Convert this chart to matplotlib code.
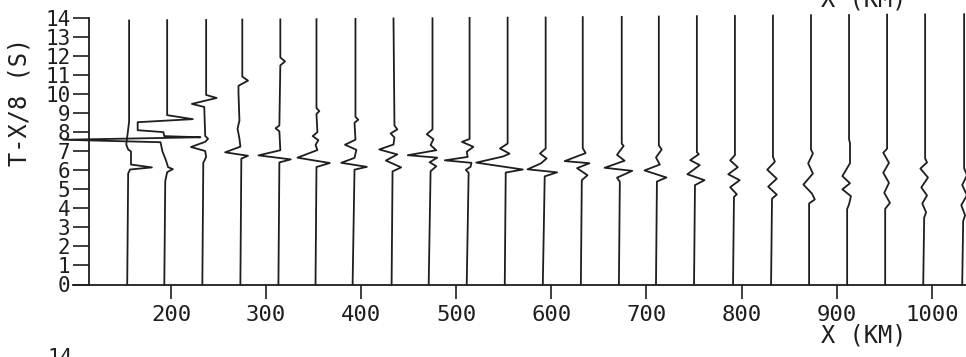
import matplotlib
matplotlib.use("Agg")
import matplotlib.pyplot as plt

offsets_km = [155, 195, 235, 274, 314, 352, 392, 433, 473, 513, 553, 593,
              632, 673, 712, 752, 792, 832, 872, 912, 952, 992, 1033]

# reduced time T-X/8 (s) of each turning point, top to bottom
trace_times = [
    [13.84, 8.55, 8.13, 7.34, 7.08, 6.97, 6.29, 6.14, 6.03, 5.82, 0],
    [13.86, 8.88, 8.67, 8.51, 8.09, 7.99, 7.78, 7.72, 7.59, 7.46, 6.99, 6.47, 6.15, 6.05, 5.89, 5.42, 0],
    [13.87, 9.94, 9.78, 9.47, 9.31, 7.79, 7.64, 7.48, 7.21, 7.00, 6.69, 6.38, 0],
    [13.89, 10.90, 10.69, 10.42, 10.06, 8.59, 8.17, 7.65, 7.23, 6.93, 6.75, 6.60, 0],
    [13.90, 11.90, 11.70, 11.49, 8.34, 8.19, 8.03, 7.04, 6.77, 6.56, 6.40, 0],
    [13.91, 9.25, 9.09, 8.94, 7.99, 7.78, 7.57, 7.31, 7.05, 6.65, 6.37, 6.16, 0],
    [13.93, 8.79, 8.64, 8.48, 7.59, 7.33, 7.06, 6.64, 6.38, 6.17, 6.02, 0],
    [13.95, 8.34, 8.13, 7.92, 7.71, 7.34, 7.08, 6.82, 6.50, 6.14, 5.93, 0],
    [13.96, 8.14, 7.88, 7.62, 7.31, 7.04, 6.78, 6.65, 6.41, 6.20, 5.94, 0],
    [13.98, 7.63, 7.48, 7.22, 6.96, 6.69, 6.51, 6.38, 6.17, 6.01, 5.86, 0],
    [13.99, 7.39, 7.13, 6.86, 6.71, 6.39, 6.03, 5.87, 0],
    [14.00, 7.13, 6.87, 6.61, 6.35, 6.04, 5.88, 5.67, 0],
    [14.02, 7.15, 6.89, 6.47, 6.36, 6.10, 5.73, 5.47, 0],
    [14.03, 7.38, 7.27, 6.80, 6.49, 6.12, 5.96, 5.60, 5.39, 0],
    [14.05, 7.29, 7.08, 6.66, 6.29, 5.98, 5.61, 5.40, 0],
    [14.07, 6.94, 6.83, 6.52, 6.26, 5.78, 5.47, 5.21, 0],
    [14.08, 6.78, 6.51, 6.15, 5.78, 5.47, 5.10, 4.73, 4.59, 0],
    [14.10, 6.70, 6.44, 6.02, 5.55, 5.13, 4.71, 4.50, 0],
    [14.12, 7.08, 6.87, 6.35, 5.82, 5.24, 4.77, 4.46, 4.25, 0],
    [14.13, 7.62, 7.41, 6.36, 5.68, 5.31, 4.99, 4.63, 4.21, 3.95, 0],
    [14.15, 7.12, 6.91, 6.38, 5.86, 5.33, 4.81, 4.28, 3.97, 0],
    [14.16, 6.61, 6.40, 6.08, 5.61, 5.09, 4.67, 4.25, 3.78, 3.51, 0],
    [14.17, 6.10, 5.73, 5.21, 4.68, 4.16, 3.63, 3.32, 0],
]

# deflection of the trace (km) at those times
trace_amps = [
    [1, 1, 0, -2, 0, 3, 3, 25, 2, 0, -1],
    [1, 1, 28, -30, -30, -3, -2, 36, -108, -6, -4, 0, 2, 7, 1, -1, -2],
    [2, 2, 13, -13, 0, 1, 4, 1, -14, 1, 2, -1, -2],
    [1, 1, 7, -3, -3, -2, -4, -2, -1, -17, 7, 0, -1],
    [1, 1, 6, 1, 0, -4, 0, 1, -22, 12, 0, -1],
    [1, 1, 4, 1, 2, -3, 3, 0, 2, -19, 15, 1, 0],
    [2, 2, 5, 1, 2, -9, 3, 1, -13, 14, 1, -1],
    [1, 2, 5, -2, 2, 1, -14, 5, -7, 9, 0, -1],
    [2, 2, -4, 3, 0, 6, -24, 7, -1, 6, 0, -2],
    [1, 1, -7, 5, -2, -1, -25, 3, 2, -3, 0, -2],
    [1, 1, -7, 3, -4, -32, 17, -1, -2],
    [1, 1, -5, 2, -4, -18, 13, 0, -2],
    [1, 1, 4, -18, 8, -5, 6, 0, -1],
    [1, 1, 3, -4, 4, -17, 12, -4, -1, -2],
    [1, 1, 4, -2, 2, -14, 9, -1, -2],
    [1, 1, 3, -6, 4, -9, 9, -1, -2],
    [1, 1, -4, 4, -6, 6, -4, 3, 0, -1],
    [1, 1, 3, -5, 5, -4, 5, 0, -1],
    [1, 1, 3, -2, 3, -7, 2, 5, -1, -1],
    [1, 1, 2, 2, -6, 2, -6, 3, 1, -1, -1],
    [1, 1, -3, 3, -3, 3, -2, 4, -1, -1],
    [1, 1, 3, -4, 4, -3, 3, -2, 2, 0, -1],
    [1, 1, 4, -1, 4, -2, 2, 0, -1],
]

x_ticks = [200, 300, 400, 500, 600, 700, 800, 900, 1000]
y_ticks = list(range(0, 15))

ink = "#1e1e1e"
mono = "DejaVu Sans Mono"

fig = plt.figure(figsize=(9.66, 3.57), dpi=100)
ax = fig.add_axes([73 / 966, (357 - 284.5) / 357, 907 / 966, 267 / 357])

for x0, tt, aa in zip(offsets_km, trace_times, trace_amps):
    ax.plot([x0 + a for a in aa], tt, color=ink, lw=1.3, clip_on=False,
            solid_joinstyle="round")

ax.set_xlim(97, 1050.7)
ax.set_ylim(0, 14)

for s in ("top", "right"):
    ax.spines[s].set_visible(False)
ax.spines["left"].set_position(("data", 114))
ax.spines["left"].set_bounds(0, 14)
for s in ("left", "bottom"):
    ax.spines[s].set_color(ink)
    ax.spines[s].set_linewidth(1.3)

ax.set_xticks(x_ticks)
ax.set_xticklabels([str(v) for v in x_ticks], fontfamily=mono, fontsize=16)
ax.set_yticks(y_ticks)
ax.set_yticklabels([str(v) for v in y_ticks], fontfamily=mono, fontsize=15)
ax.tick_params(axis="x", direction="out", length=10, width=1.2, pad=5, colors=ink)
ax.tick_params(axis="y", direction="out", length=11.5, width=1.2, pad=2, colors=ink)

fig.text(20 / 966, 1 - 102 / 357, "T-X/8 (S)", rotation=90, ha="center", va="center",
         fontfamily=mono, fontsize=17, color=ink)
fig.text(864 / 966, 1 - 336 / 357, "X (KM)", ha="center", va="center",
         fontfamily=mono, fontsize=17, color=ink)
# pieces of the neighbouring panels cut by the crop
fig.text(864 / 966, 1 + 1 / 357, "X (KM)", ha="center", va="center",
         fontfamily=mono, fontsize=17, color=ink)
fig.text(60 / 966, 1 - 358 / 357, "14", ha="center", va="center",
         fontfamily=mono, fontsize=15, color=ink)

fig.savefig("out.png", dpi=100)
